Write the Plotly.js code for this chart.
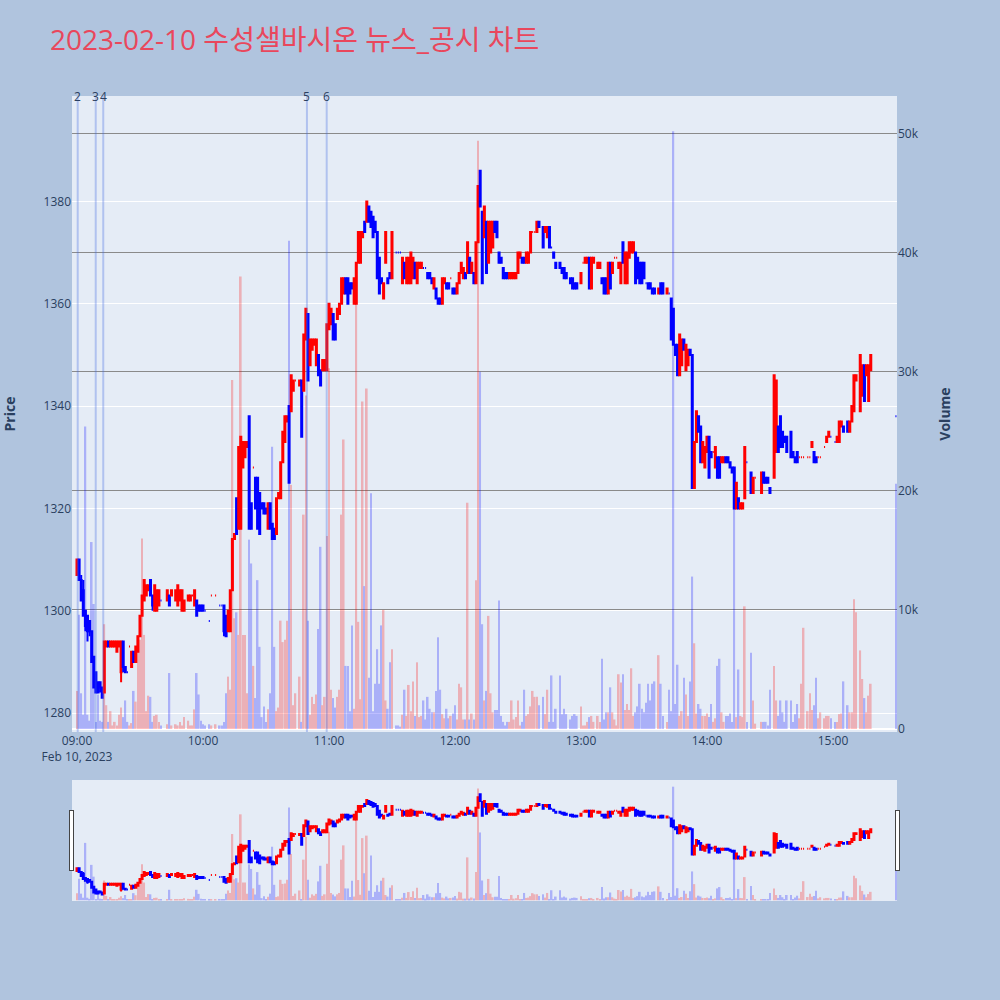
<!DOCTYPE html>
<html>
<head>
<meta charset="utf-8">
<script src="https://cdn.plot.ly/plotly-3.0.1.min.js"></script>
<style>html,body{margin:0;padding:0;background:#B0C4DE;}</style>
</head>
<body>
<div id="chart" style="width:1000px;height:1000px;"></div>
<script>
// 2023-02-10 one-minute bars
const tradeDay = "2023-02-10";

const times = [
  "09:00","09:01","09:02","09:03","09:04","09:05","09:06","09:07","09:08","09:09",
  "09:10","09:11","09:12","09:13","09:14","09:15","09:16","09:17","09:18","09:19",
  "09:20","09:21","09:22","09:23","09:24","09:25","09:26","09:27","09:28","09:29",
  "09:30","09:31","09:32","09:33","09:34","09:35","09:36","09:37","09:38","09:39",
  "09:40",
  "09:43","09:44","09:45","09:47","09:48","09:49","09:50","09:51","09:53","09:54","09:55","09:56","09:57","09:58","09:59",
  "10:00","10:01","10:03","10:04","10:06",
  "10:08","10:09","10:10","10:11","10:12","10:13","10:14","10:15","10:16","10:17",
  "10:18","10:19","10:20","10:21","10:22","10:23","10:24","10:25","10:26","10:27",
  "10:28","10:29","10:30","10:31","10:32","10:33","10:34","10:35","10:36","10:37",
  "10:38","10:39","10:40","10:41","10:42","10:43","10:44",
  "10:46","10:47","10:48","10:49","10:50","10:51","10:52","10:53","10:54","10:55","10:56","10:57","10:58","10:59",
  "11:00","11:01","11:02","11:03","11:04","11:05","11:06","11:07","11:08","11:09",
  "11:10","11:11","11:12","11:13","11:14","11:15","11:16","11:17","11:18","11:19",
  "11:20","11:21","11:22","11:23","11:24","11:25","11:26","11:27","11:28","11:29","11:30",
  "11:32","11:33","11:34","11:35","11:36","11:37","11:38","11:39","11:40","11:41",
  "11:42","11:43","11:44","11:45","11:46","11:47","11:48","11:49","11:50","11:51",
  "11:52","11:53","11:54","11:55","11:56","11:57","11:58","11:59",
  "12:00","12:01","12:02","12:03","12:04","12:05","12:06","12:07","12:08","12:09",
  "12:10","12:11","12:12","12:13","12:14","12:15","12:16","12:17","12:18","12:19",
  "12:20","12:21","12:22","12:23","12:24","12:25","12:26","12:27","12:28","12:29",
  "12:30","12:31","12:32","12:33","12:34","12:35","12:36","12:37","12:38","12:39","12:40",
  "12:42","12:43","12:44","12:45","12:46","12:47","12:48",
  "12:50","12:51","12:52","12:53",
  "12:55","12:56","12:57","12:58",
  "13:00","13:01","13:02","13:03","13:04","13:05","13:06",
  "13:08","13:09","13:10","13:11","13:12","13:13","13:14","13:15","13:16","13:17",
  "13:18","13:19","13:20","13:21","13:22","13:23","13:24","13:25","13:26","13:27",
  "13:28","13:29","13:30","13:31","13:32","13:33","13:34","13:35",
  "13:37","13:38","13:39",
  "13:41","13:42","13:43","13:44","13:45","13:46","13:47","13:48","13:49","13:50",
  "13:51","13:52","13:53","13:54","13:55","13:56","13:57","13:58","13:59",
  "14:00","14:01","14:02","14:03","14:04","14:05","14:06","14:07","14:08","14:09",
  "14:10","14:11","14:12","14:13","14:14","14:15","14:16","14:17","14:18","14:19",
  "14:21","14:22","14:23",
  "14:26","14:27","14:28","14:29","14:30",
  "14:32","14:33","14:34","14:35","14:36","14:37","14:38",
  "14:40","14:41","14:42","14:43","14:44","14:45","14:46",
  "14:48","14:49","14:50","14:51","14:52","14:53","14:54",
  "14:56","14:57","14:58","14:59",
  "15:01","15:02","15:03","15:04","15:05",
  "15:07","15:08","15:09","15:10","15:11",
  "15:13","15:14","15:15","15:16","15:17","15:18",
  "15:30"
];

const opens = [
  1307,1310,1306,1304,1300,1299,1298,1296,1291,1288,
  1286,1286,1285,1284,1293,1294,1293,1293,1293,1292,
  1293,1288,1294,1289,1288,1293,1289,1292,1290,1292,
  1295,1299,1302,1303,1304,1306,1303,1300,1300,1301,
  1302,
  1302,1303,1303,1302,1301,1302,1300,1300,1302,1302,1303,1301,1302,1301,1301,
  1301,1300,1298,1303,1303,
  1301,1301,1301,1299,1296,1296,1304,1314,1322,1316,
  1316,1328,1330,1332,1338,1321,1328,1326,1326,1323,
  1321,1321,1320,1316,1321,1317,1316,1315,1322,1322,
  1329,1333,1337,1340,1339,1343,1345,
  1344,1345,1343,1353,1358,1348,1351,1352,1348,1350,1347,1347,1347,1347,
  1355,1356,1358,1356,1357,1358,1360,1362,1365,1365,
  1364,1364,1360,1360,1368,1368,1373,1376,1376,1379,
  1378,1377,1376,1374,1369,1365,1361,1368,1365,1366,1365,
  1370,1370,1370,1364,1368,1364,1364,1364,1365,1368,
  1364,1367,1367,1367,1367,1366,1366,1365,1363,1363,
  1361,1361,1360,1364,1364,1364,1365,1363,
  1363,1362,1364,1366,1365,1366,1366,1369,1366,1366,
  1364,1372,1386,1378,1373,1376,1368,1370,1371,1376,
  1376,1370,1369,1367,1366,1366,1365,1365,1365,1365,
  1366,1369,1369,1369,1368,1368,1370,1374,1374,1374,1376,
  1375,1374,1373,1375,1371,1370,1368,
  1368,1367,1367,1366,
  1365,1365,1364,1364,
  1364,1368,1368,1368,1369,1363,1368,
  1367,1367,1365,1365,1365,1362,1368,1366,1369,1369,
  1367,1364,1372,1364,1364,1369,1370,1370,1370,1369,
  1368,1368,1368,1364,1364,1364,1363,1363,
  1362,1364,1364,
  1362,1362,1361,1359,1352,1352,1346,1348,1353,1347,
  1348,1351,1350,1324,1333,1338,1336,1329,1328,
  1331,1334,1331,1331,1328,1330,1330,1329,1329,1330,
  1330,1329,1328,1328,1320,1322,1320,1320,1322,1329,
  1327,1323,1326,
  1323,1327,1326,1326,1324,
  1326,1331,1336,1338,1335,1334,1334,
  1335,1331,1330,1331,1330,1330,1330,
  1330,1330,1332,1331,1330,1330,1330,
  1332,1333,1334,1334,
  1333,1333,1333,1336,1336,
  1337,1335,1337,1339,1345,
  1339,1342,1348,1346,1341,1347,
  1338
];

const highs = [
  1310,1310,1307,1306,1300,1299,1298,1296,1291,1288,
  1286,1286,1285,1294,1294,1294,1294,1294,1294,1294,
  1294,1294,1294,1289,1288,1293,1292,1292,1293,1295,
  1299,1303,1306,1305,1305,1306,1303,1305,1304,1304,
  1302,
  1304,1303,1304,1304,1305,1304,1304,1302,1303,1303,1303,1304,1302,1301,1301,
  1301,1300,1298,1303,1303,
  1301,1301,1301,1299,1300,1304,1314,1315,1322,1332,
  1334,1333,1333,1333,1338,1321,1328,1326,1326,1323,
  1321,1321,1320,1321,1321,1317,1316,1322,1323,1329,
  1335,1338,1338,1340,1346,1345,1345,
  1345,1345,1354,1359,1358,1353,1353,1353,1353,1350,1347,1349,1349,1356,
  1360,1359,1358,1356,1359,1360,1365,1365,1365,1365,
  1364,1364,1365,1368,1374,1374,1374,1376,1380,1379,
  1378,1377,1376,1374,1369,1365,1364,1374,1365,1366,1374,
  1370,1370,1370,1369,1368,1369,1369,1370,1369,1368,
  1368,1368,1368,1367,1367,1366,1366,1365,1365,1363,
  1361,1361,1365,1365,1364,1364,1365,1363,
  1363,1364,1366,1368,1367,1366,1372,1369,1368,1366,
  1372,1383,1386,1378,1379,1376,1376,1376,1376,1376,
  1376,1370,1369,1367,1366,1366,1366,1366,1366,1366,
  1370,1370,1369,1369,1370,1370,1374,1374,1374,1376,1376,
  1375,1375,1375,1375,1371,1370,1368,
  1368,1367,1367,1366,
  1365,1365,1364,1364,
  1366,1368,1369,1369,1369,1369,1369,
  1368,1368,1365,1365,1365,1368,1368,1368,1369,1369,
  1368,1368,1372,1370,1370,1372,1372,1372,1370,1369,
  1368,1368,1368,1364,1364,1364,1363,1363,
  1363,1364,1364,
  1363,1362,1361,1359,1352,1352,1354,1353,1353,1352,
  1351,1351,1350,1333,1339,1338,1336,1333,1332,
  1334,1334,1331,1331,1332,1330,1330,1330,1330,1330,
  1330,1329,1328,1328,1325,1322,1321,1321,1332,1329,
  1327,1326,1326,
  1327,1327,1326,1326,1324,
  1346,1345,1336,1338,1335,1334,1334,
  1335,1331,1330,1331,1330,1330,1330,
  1330,1330,1333,1331,1330,1330,1330,
  1332,1334,1335,1334,
  1333,1334,1337,1337,1336,
  1337,1337,1340,1346,1346,
  1350,1348,1348,1348,1348,1350,
  1338
];

const lows = [
  1307,1306,1302,1299,1296,1294,1295,1290,1285,1284,
  1284,1284,1283,1284,1293,1293,1293,1293,1293,1292,
  1293,1286,1288,1288,1288,1293,1289,1290,1290,1292,
  1295,1299,1302,1303,1304,1303,1300,1300,1300,1301,
  1302,
  1302,1301,1303,1302,1301,1302,1300,1300,1302,1302,1303,1301,1299,1300,1300,
  1300,1300,1298,1303,1303,
  1301,1301,1295,1295,1296,1296,1304,1314,1315,1316,
  1316,1328,1330,1332,1316,1316,1328,1320,1316,1315,
  1320,1319,1319,1316,1316,1314,1314,1315,1322,1322,
  1329,1333,1337,1325,1339,1343,1345,
  1344,1334,1343,1353,1345,1348,1351,1352,1348,1346,1344,1347,1347,1347,
  1355,1356,1353,1353,1357,1358,1360,1362,1362,1360,
  1362,1363,1360,1360,1368,1368,1373,1374,1376,1376,
  1375,1373,1374,1365,1362,1364,1361,1368,1364,1365,1365,
  1370,1370,1370,1364,1365,1364,1364,1364,1365,1365,
  1364,1367,1367,1367,1367,1365,1365,1364,1363,1361,
  1360,1360,1360,1364,1363,1363,1365,1362,
  1362,1362,1364,1366,1365,1365,1366,1366,1366,1364,
  1364,1372,1379,1364,1373,1366,1368,1370,1371,1374,
  1373,1368,1368,1365,1365,1365,1365,1365,1365,1365,
  1366,1369,1368,1368,1368,1368,1370,1374,1374,1374,1375,
  1371,1374,1373,1371,1371,1369,1367,
  1367,1366,1365,1365,
  1364,1363,1363,1363,
  1364,1368,1368,1368,1363,1363,1368,
  1367,1367,1364,1362,1362,1362,1363,1366,1369,1369,
  1367,1364,1368,1364,1364,1369,1370,1370,1364,1365,
  1364,1364,1365,1364,1363,1363,1362,1362,
  1362,1362,1362,
  1362,1362,1353,1352,1350,1346,1346,1348,1351,1347,
  1348,1350,1324,1324,1333,1335,1329,1329,1328,
  1331,1326,1330,1331,1328,1326,1326,1329,1329,1329,
  1329,1328,1327,1320,1320,1320,1320,1320,1322,1329,
  1323,1323,1326,
  1323,1325,1325,1325,1323,
  1326,1331,1331,1332,1332,1333,1331,
  1330,1330,1329,1329,1330,1330,1330,
  1330,1330,1332,1329,1329,1330,1330,
  1332,1333,1334,1334,
  1333,1333,1333,1336,1335,
  1335,1335,1337,1339,1345,
  1339,1342,1341,1346,1341,1347,
  1338
];

const closes = [
  1310,1306,1302,1299,1297,1296,1296,1290,1285,1284,
  1284,1285,1283,1294,1294,1293,1294,1294,1294,1294,
  1294,1294,1289,1288,1288,1293,1292,1290,1293,1295,
  1299,1303,1306,1305,1305,1303,1301,1305,1304,1304,
  1302,
  1304,1301,1304,1304,1305,1304,1304,1302,1303,1303,1303,1304,1299,1300,1300,
  1300,1300,1298,1303,1303,
  1301,1301,1296,1295,1300,1304,1314,1315,1315,1332,
  1334,1333,1333,1333,1316,1316,1328,1320,1316,1315,
  1320,1319,1319,1321,1316,1314,1314,1322,1323,1329,
  1335,1338,1338,1325,1346,1345,1345,
  1345,1334,1354,1359,1345,1353,1353,1353,1353,1346,1344,1349,1349,1356,
  1360,1359,1353,1353,1359,1360,1365,1365,1362,1360,
  1362,1363,1365,1368,1374,1374,1374,1374,1380,1376,
  1375,1373,1374,1365,1362,1364,1364,1374,1364,1365,1374,
  1370,1370,1370,1369,1365,1369,1369,1370,1369,1365,
  1368,1368,1368,1367,1367,1365,1365,1364,1365,1361,
  1360,1360,1365,1365,1363,1363,1365,1362,
  1362,1364,1366,1368,1367,1365,1372,1366,1368,1364,
  1372,1383,1379,1364,1379,1366,1376,1376,1376,1374,
  1373,1368,1368,1365,1365,1365,1366,1366,1366,1366,
  1370,1370,1368,1368,1370,1370,1374,1374,1374,1376,1375,
  1371,1375,1375,1371,1371,1369,1367,
  1367,1366,1365,1365,
  1364,1363,1363,1363,
  1366,1368,1369,1369,1363,1369,1369,
  1368,1368,1364,1362,1362,1368,1363,1368,1369,1369,
  1368,1368,1368,1370,1370,1372,1372,1372,1364,1365,
  1364,1364,1365,1364,1363,1363,1362,1362,
  1363,1362,1362,
  1363,1362,1353,1352,1350,1346,1354,1353,1351,1352,
  1351,1350,1324,1333,1339,1335,1329,1333,1332,
  1334,1326,1330,1331,1332,1326,1326,1330,1330,1329,
  1329,1328,1327,1320,1325,1320,1321,1321,1332,1329,
  1323,1326,1326,
  1327,1325,1325,1325,1323,
  1346,1345,1331,1332,1332,1333,1331,
  1330,1330,1329,1329,1330,1330,1330,
  1330,1330,1333,1329,1329,1330,1330,
  1332,1334,1335,1334,
  1333,1334,1337,1337,1335,
  1335,1337,1340,1346,1346,
  1350,1348,1341,1348,1348,1350,
  1338
];

const volumes = [
  3200,9600,3000,1200,25400,1200,700,15700,10500,600,
  2900,700,600,8800,2000,600,1500,300,600,300,
  1200,1800,1000,2400,600,300,500,3200,2300,7900,
  7500,16000,7900,1500,2800,2700,600,1100,1200,600,
  300,
  400,4700,300,400,300,600,300,1000,700,300,300,1650,4700,2900,700,
  400,300,400,300,400,
  300,300,600,3000,4400,3300,29300,9300,9800,7900,
  38000,7900,7900,3000,15900,13900,5300,2600,12500,6900,
  1000,1900,600,1650,3000,23700,6900,1500,1800,9100,
  7300,7500,9100,41000,20500,2000,3000,
  4400,600,18000,28000,9100,1200,2700,2100,2900,8400,15300,2000,2700,16200,
  30300,3300,2600,1800,2700,3300,18000,24300,5300,5300,
  1500,8700,1700,38000,9000,2500,27500,12000,28600,4300,
  19800,1500,3800,6700,3800,8700,10000,2400,1700,5600,6700,
  300,300,200,1200,3300,1100,3700,1500,4000,1100,
  5600,1000,1100,2400,800,2700,1700,1400,1400,3200,
  7700,3300,1250,900,1700,900,1100,1300,
  2000,800,3800,3500,800,800,19000,800,1300,800,
  12500,49400,30000,8800,2400,3200,9500,3000,1400,1600,
  1600,10800,1100,600,300,600,600,2400,800,1000,
  2400,300,600,3300,1100,1250,1900,3200,2700,2700,2000,
  2700,1250,3300,600,4500,600,1700,
  4500,1250,1700,1250,
  800,1100,1250,1100,
  1900,300,300,600,1000,1100,600,
  1100,600,5900,800,1400,1400,3500,1400,800,300,
  4600,3900,4600,1600,2100,1600,5100,1100,1400,1900,
  3800,1700,1400,2200,3800,2400,3800,4000,
  6200,3800,1100,
  600,3300,1500,50200,2100,5400,1100,1500,4300,2900,
  1100,4000,12800,7200,1300,2100,1700,1100,1100,
  1300,1000,2100,600,900,5300,5900,1400,600,1100,
  1100,1300,600,21700,1000,5000,1100,1000,10300,600,
  6400,2400,450,
  600,600,600,300,3300,
  5300,2400,1100,2400,1400,600,2400,
  2400,600,1250,2100,900,3800,8500,
  1500,3000,1600,2000,4300,900,1400,
  900,1100,1100,900,
  600,600,1250,1300,4000,
  2000,1400,1400,10900,9800,
  6600,4200,2600,1400,2800,3800,
  20600
];

// price tick values shown on the left axis
const priceTicks = [1280, 1300, 1320, 1340, 1360, 1380];

// news / disclosure markers
const newsTimes = ["09:00:20", "09:08:55", "09:12:30", "10:49:30", "10:58:55"];
const newsLabels = ["2", "3", "4", "5", "6"];

const UP = "#FF0000";
const DOWN = "#0000FF";

const x = times.map(t => `${tradeDay} ${t}`);

// bar colour follows candle direction; flat candles compare with previous close
const volColors = [];
let lastUp = true;
for (let i = 0; i < closes.length; i++) {
  let up;
  if (closes[i] > opens[i]) up = true;
  else if (closes[i] < opens[i]) up = false;
  else if (i > 0 && closes[i] > closes[i - 1]) up = true;
  else if (i > 0 && closes[i] < closes[i - 1]) up = false;
  else up = lastUp;
  lastUp = up;
  volColors.push(up ? UP : DOWN);
}

const candles = {
  type: "candlestick",
  x: x,
  open: opens,
  high: highs,
  low: lows,
  close: closes,
  yaxis: "y",
  name: "Price",
  increasing: { line: { color: UP }, fillcolor: UP },
  decreasing: { line: { color: DOWN }, fillcolor: DOWN },
  showlegend: false
};

const volumeBars = {
  type: "bar",
  x: x,
  y: volumes,
  yaxis: "y2",
  name: "Volume",
  marker: { color: volColors },
  opacity: 0.25,
  showlegend: false
};

const shapes = newsTimes.map(t => ({
  type: "line",
  xref: "x", yref: "paper",
  x0: `${tradeDay} ${t}`, x1: `${tradeDay} ${t}`,
  y0: 0, y1: 1,
  line: { color: "rgba(65,105,225,0.32)", width: 2 }
}));

const annotations = newsTimes.map((t, i) => ({
  x: `${tradeDay} ${t}`, y: 1,
  xref: "x", yref: "paper",
  text: newsLabels[i],
  showarrow: false,
  xanchor: "center", yanchor: "middle",
  font: { size: 12, color: "#2a3f5f" }
}));

const layout = {
  width: 1000,
  height: 1000,
  paper_bgcolor: "#B0C4DE",
  plot_bgcolor: "#E5ECF6",
  font: { family: '"Open Sans", "Noto Sans CJK KR", sans-serif', size: 12, color: "#2a3f5f" },
  title: {
    text: "2023-02-10 수성샐바시온 뉴스_공시 차트",
    font: { size: 28, color: "#E9475C" },
    x: 0.05, xanchor: "left",
    y: 0.96, yanchor: "middle"
  },
  margin: { l: 72, r: 103, t: 96, b: 100 },
  showlegend: false,
  xaxis: {
    type: "date",
    range: [`${tradeDay} 08:57:37`, `${tradeDay} 15:30:30`],
    showgrid: false,
    zeroline: false,
    dtick: 3600000,
    rangeslider: { visible: true, bgcolor: "#E5ECF6", thickness: 0.15 }
  },
  yaxis: {
    title: { text: "Price", font: { size: 14, weight: "bold" }, standoff: 24 },
    range: [1276.3, 1400.6],
    tickvals: priceTicks,
    gridcolor: "#FFFFFF",
    zeroline: false
  },
  yaxis2: {
    title: { text: "Volume", font: { size: 14, weight: "bold" }, standoff: 22 },
    overlaying: "y",
    side: "right",
    range: [-250, 53150],
    dtick: 10000,
    showgrid: true,
    gridcolor: "#8a8a8a",
    zeroline: true,
    zerolinecolor: "#FFFFFF",
    zerolinewidth: 2
  },
  shapes: shapes,
  annotations: annotations
};

Plotly.newPlot("chart", [candles, volumeBars], layout, { displayModeBar: false });
</script>
</body>
</html>
